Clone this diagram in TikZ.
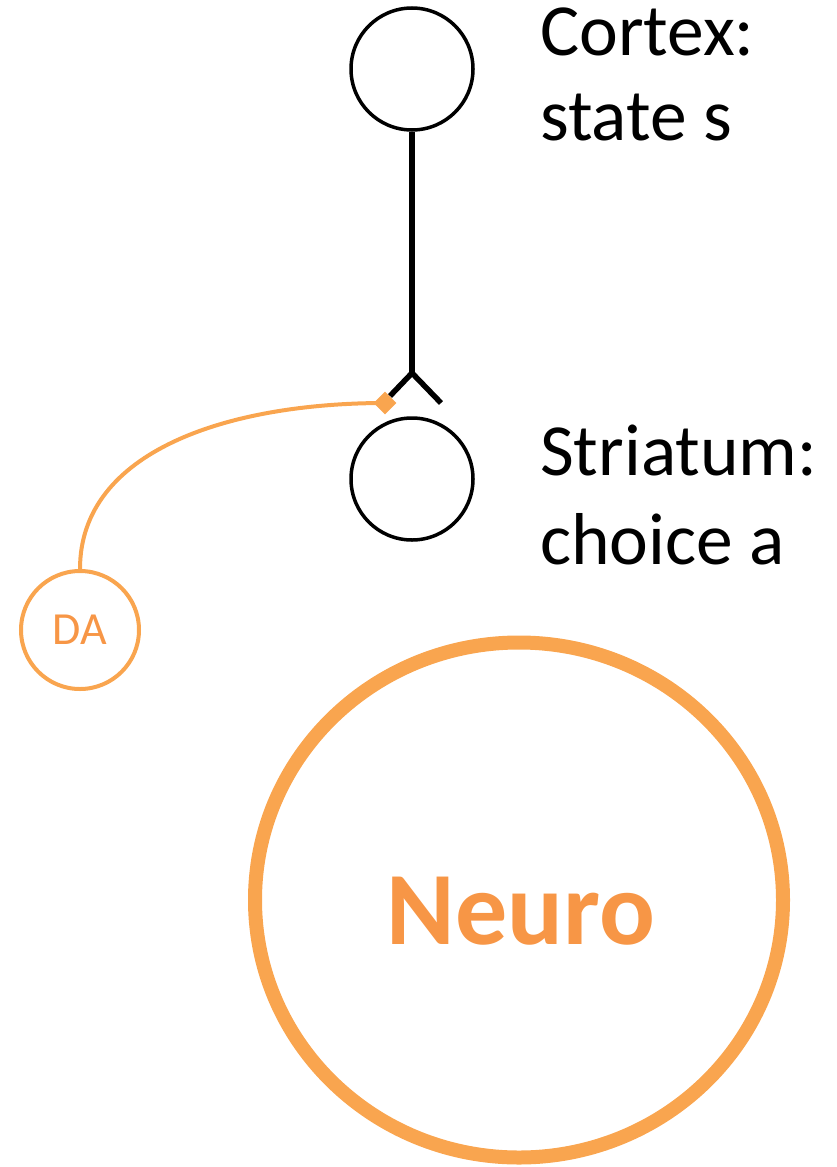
\documentclass[tikz,border=0pt]{standalone}
\usepackage{fontspec}
\setmainfont{Carlito}
\usetikzlibrary{shapes.geometric}
\definecolor{ring}{HTML}{F9A54F}
\definecolor{orangetext}{HTML}{F79646}
\tikzset{
  cell/.style={draw=black, circle, line width=3.5pt, minimum size=122pt, inner sep=0pt},
  label/.style={anchor=base west, inner sep=0pt, font=\fontsize{73.5}{86}\selectfont},
  axon/.style={draw=black, line width=5.5pt},
  orangeline/.style={draw=ring, line width=4pt}
}
\begin{document}
\begin{tikzpicture}[x=1pt,y=-1pt]
\useasboundingbox (0,0) rectangle (837,1167);
\node[cell] (cortex) at (412,69) {};
\node[cell] (striatum) at (412,479) {};
\coordinate (syn) at (412,373);
\coordinate (synL) at (390,396);
\coordinate (synR) at (441,403);
\draw[axon] (cortex.south) -- (syn);
\draw[axon, line join=miter] (synL) -- (syn) -- (synR);
\node[diamond, fill=ring, minimum size=23pt, inner sep=0pt] (dmd) at (385,403) {};
\node[draw=ring, circle, line width=4pt, minimum size=118pt, inner sep=0pt,
      text=orangetext, font=\fontsize{46}{50}\selectfont] (da) at (80,630) {DA};
\draw[orangeline] (dmd.center) .. controls (230,403) and (80,450) .. (da.north);
\node[draw=ring, ellipse, line width=14pt, minimum width=528pt, minimum height=515pt, inner sep=0pt] (neuro) at (519,900) {};
\node[text=orangetext, font=\fontsize{104}{110}\selectfont\bfseries, inner sep=0pt] (neurotext) at (521,911) {Neuro};
\node[label] (c1) at (540,55) {Cortex:};
\node[label] (c2) at (540,140) {state s};
\node[label] (s1) at (540,475) {Striatum:};
\node[label] (s2) at (540,564) {choice a};
\end{tikzpicture}
\end{document}
